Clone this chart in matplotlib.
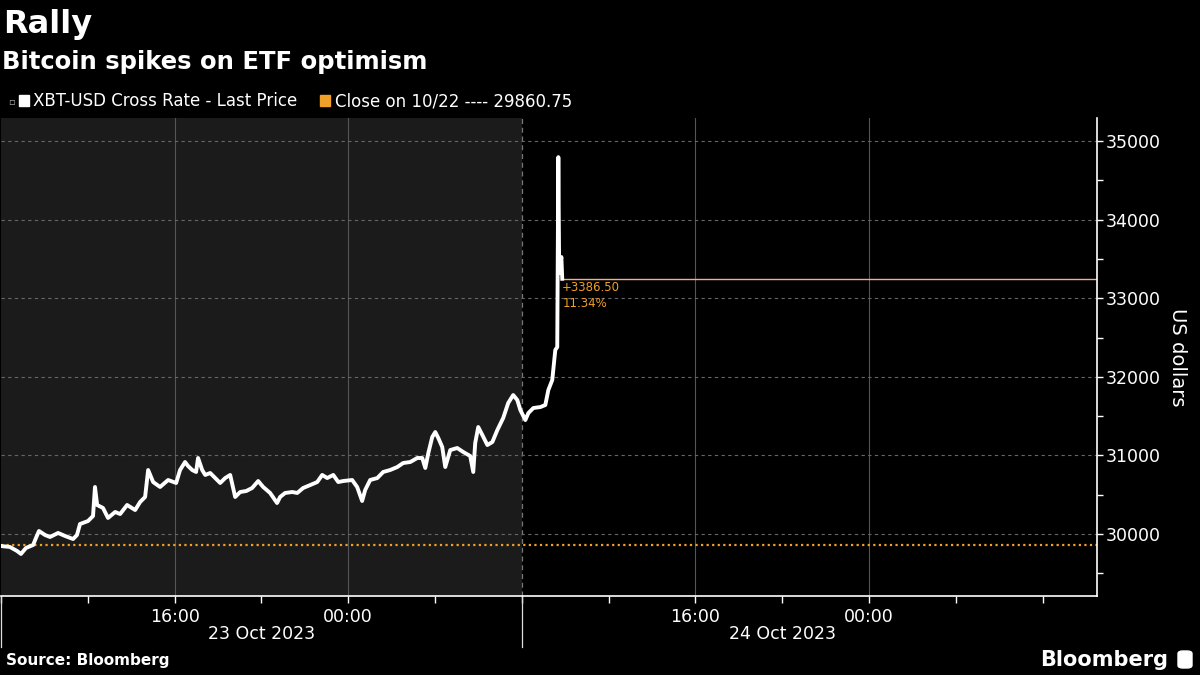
import matplotlib
matplotlib.use("Agg")
import matplotlib.pyplot as plt
import matplotlib.dates as mdates
from matplotlib.patches import Rectangle, FancyBboxPatch
import pandas as pd

# data (hours after 23 Oct 2023 08:00, price in USD)
start = pd.Timestamp("2023-10-23 08:00")
hours = [0.00, 0.41, 0.74, 0.92, 1.15, 1.48, 1.61, 1.75, 2.03, 2.26,
         2.63, 2.95, 3.32, 3.50, 3.64, 4.01, 4.24, 4.33, 4.43, 4.70,
         4.93, 5.26, 5.49, 5.81, 6.18, 6.41, 6.64, 6.78, 7.01, 7.33,
         7.70, 8.07, 8.25, 8.48, 8.62, 8.81, 8.99, 9.08, 9.27, 9.41,
         9.64, 9.87, 10.10, 10.33, 10.56, 10.79, 11.02, 11.30, 11.57, 11.85,
         12.08, 12.40, 12.72, 12.86, 13.09, 13.42, 13.65, 13.92, 14.25, 14.57,
         14.80, 15.03, 15.31, 15.54, 15.77, 16.18, 16.41, 16.64, 16.78, 17.01,
         17.34, 17.61, 17.93, 18.26, 18.53, 18.86, 19.18, 19.41, 19.55, 19.69,
         19.87, 20.01, 20.15, 20.33, 20.47, 20.70, 21.02, 21.30, 21.62, 21.76,
         21.85, 21.99, 22.18, 22.41, 22.64, 22.87, 23.14, 23.37, 23.60, 23.79,
         23.93, 24.16, 24.30, 24.53, 24.85, 25.08, 25.22, 25.40, 25.54, 25.63,
         25.68, 25.72, 25.82, 25.86]
price = [29847, 29835, 29784, 29746, 29822, 29860, 29949, 30038, 29987, 29962,
         30013, 29975, 29936, 29987, 30127, 30165, 30229, 30598, 30369, 30331,
         30204, 30280, 30254, 30369, 30305, 30407, 30471, 30814, 30661, 30598,
         30687, 30649, 30814, 30916, 30865, 30814, 30789, 30967, 30814, 30751,
         30776, 30712, 30649, 30712, 30751, 30471, 30534, 30547, 30585, 30674,
         30598, 30522, 30394, 30471, 30522, 30534, 30522, 30585, 30623, 30661,
         30751, 30712, 30751, 30661, 30674, 30687, 30598, 30420, 30560, 30687,
         30712, 30789, 30814, 30852, 30903, 30916, 30967, 30967, 30840, 31030,
         31234, 31297, 31221, 31107, 30852, 31068, 31094, 31043, 30992, 30789,
         31158, 31361, 31259, 31132, 31170, 31323, 31476, 31666, 31768, 31704,
         31577, 31450, 31539, 31603, 31615, 31641, 31832, 31959, 32341, 32379,
         34795, 33320, 33524, 33247.25]
prev_close = 29860.75
change = "+3386.50"
change_pct = "11.34%"
days = ["23 Oct 2023", "24 Oct 2023"]

times = [start + pd.Timedelta(hours=h) for h in hours]
x_min = start
x_max = start + pd.Timedelta(hours=50.5)
day_break = start + pd.Timedelta(hours=24)
orange = "#f0a028"

fig = plt.figure(figsize=(12, 6.75), dpi=100, facecolor="black")
ax = fig.add_axes([1 / 1200, 79 / 675, 1096 / 1200, 478 / 675])
ax.set_facecolor("black")

ax.axvspan(x_min, day_break, color="#1b1b1b", zorder=0, lw=0)
ax.axvline(day_break, color="#777777", lw=0.9, ls=(0, (4, 3)), zorder=1)

ax.axhline(prev_close, color=orange, lw=1.6, ls=(0, (1, 1.5)), zorder=2)
ax.plot(times, price, color="white", lw=2.8, zorder=3)
ax.plot([times[-1], x_max], [price[-1], price[-1]], color="#f2b088", lw=1.0, zorder=2)
ax.text(times[-1], price[-1] - 30, change, color=orange,
        fontsize=8.5, va="top", ha="left", family="DejaVu Sans", zorder=4)
ax.text(times[-1], price[-1] - 230, change_pct, color=orange,
        fontsize=8.5, va="top", ha="left", family="DejaVu Sans", zorder=4)

ax.set_xlim(x_min, x_max)
ax.set_ylim(29211, 35293)

# y axis on the right
ax.yaxis.tick_right()
ax.set_yticks([30000, 31000, 32000, 33000, 34000, 35000])
ax.set_yticks([29500, 30500, 31500, 32500, 33500, 34500], minor=True)
ax.tick_params(axis="y", which="both", colors="white", length=4, width=1,
               labelsize=12.5, pad=2)
ax.yaxis.grid(True, which="major", color="#666666", lw=0.8, ls=(0, (3, 3)))
ax.text(1.0 + 80 / 1096, 0.5, "US dollars", transform=ax.transAxes, rotation=270,
        color="white", fontsize=14, va="center", ha="center")

# x axis
ax.xaxis.set_major_locator(mdates.HourLocator(byhour=[0, 16]))
ax.xaxis.set_minor_locator(mdates.HourLocator(byhour=[4, 8, 12, 20]))
ax.xaxis.set_major_formatter(mdates.DateFormatter("%H:%M"))
ax.tick_params(axis="x", which="both", colors="white", length=5, width=1,
               labelsize=12.5, pad=4)
ax.xaxis.grid(True, which="major", color="#555555", lw=0.8)

for spine in ["top", "left"]:
    ax.spines[spine].set_visible(False)
for spine in ["bottom", "right"]:
    ax.spines[spine].set_color("white")
    ax.spines[spine].set_linewidth(1.2)

# day separators and day labels
for d in [x_min, day_break]:
    ax.axvline(d, ymin=-0.107, ymax=0, color="#dddddd", lw=0.9, clip_on=False)
for i, lab in enumerate(days):
    mid = start + pd.Timedelta(hours=12 + 24 * i)
    ax.text(mid, -0.08, lab, transform=ax.get_xaxis_transform(), color="white",
            fontsize=12.5, ha="center", va="center")

# titles
fig.text(3 / 1200, 1 - 25 / 675, "Rally", color="white", fontsize=23,
         fontweight="bold", va="center", ha="left")
fig.text(2 / 1200, 1 - 62 / 675, "Bitcoin spikes on ETF optimism", color="white",
         fontsize=17.5, fontweight="bold", va="center", ha="left")

# legend
ly = 1 - 101 / 675
fig.patches.append(Rectangle((19 / 1200, ly - 5 / 675), 10 / 1200, 11 / 675,
                             transform=fig.transFigure, color="white"))
fig.text(11 / 1200, ly, "▫", color="#aaaaaa", fontsize=7, va="center", ha="center")
fig.text(33 / 1200, ly, "XBT-USD Cross Rate - Last Price", color="white",
         fontsize=12, va="center", ha="left")
fig.patches.append(Rectangle((320 / 1200, ly - 5 / 675), 10 / 1200, 11 / 675,
                             transform=fig.transFigure, color=orange))
fig.text(335 / 1200, ly, "Close on 10/22 ---- 29860.75", color="white",
         fontsize=12, va="center", ha="left")

# footer
fig.text(6 / 1200, 1 - 661 / 675, "Source: Bloomberg", color="white", fontsize=11,
         fontweight="bold", va="center", ha="left")
fig.text(1168 / 1200, 1 - 660 / 675, "Bloomberg", color="white", fontsize=15,
         fontweight="bold", va="center", ha="right")
fig.patches.append(FancyBboxPatch((1178 / 1200, 1 - 668 / 675), 14 / 1200, 17 / 675,
                                  boxstyle="round,pad=0,rounding_size=0.004",
                                  transform=fig.transFigure, color="white"))

fig.savefig("out.png", dpi=100, facecolor="black")
